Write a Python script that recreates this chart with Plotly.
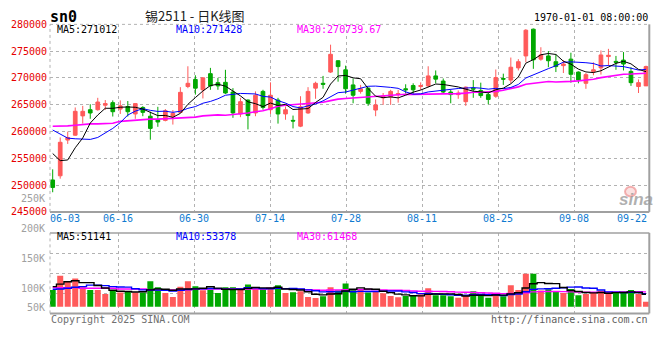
import plotly.graph_objects as go

W, H = 660, 360

# ---------------- data ----------------
OPEN = [250960, 251740, 258410, 259320, 262920, 264070, 264070, 264910, 265390, 264190,
        264670, 263280, 264490, 262860, 262200, 262080, 262860, 263580, 268400, 269720,
        267790, 270800, 269120, 269180, 267370, 263280, 265870, 263470, 267490, 264070,
        265870, 263280, 262080, 261000, 263470, 268100, 269000, 271100, 273210, 271520,
        268700, 267490, 268100, 264010, 266290, 266470, 266890, 267980, 268580, 268400,
        268520, 270380, 269420, 267370, 266890, 265570, 268100, 267670, 266890, 266590,
        269900, 269600, 271880, 274110, 279100, 273510, 274110, 273030, 272300, 273510,
        271100, 269000, 271220, 271880, 273990, 273090, 273330, 271220, 268400, 268520]
HIGH = [252940, 258890, 259980, 264490, 264790, 265090, 266290, 265870, 265810, 265810,
        265690, 265210, 264730, 263700, 264610, 264190, 264010, 268280, 272180, 270500,
        270020, 271880, 270020, 271520, 268100, 266290, 265990, 267490, 267790, 269180,
        266290, 264670, 262980, 266590, 268280, 269300, 270380, 276210, 273300, 272300,
        269900, 268700, 268200, 265990, 267190, 267790, 267790, 268820, 269000, 269180,
        272180, 271400, 269900, 267790, 267670, 268400, 269600, 269120, 267490, 271580,
        270800, 273810, 273510, 279100, 279220, 275730, 275010, 274410, 273330, 274710,
        271220, 270920, 272910, 275130, 275430, 274110, 274830, 272000, 269720, 272300]
LOW = [248670, 251200, 257690, 259200, 261480, 262380, 263890, 264010, 262800, 263280,
       262800, 262380, 262860, 258470, 260880, 261900, 261300, 263400, 268090, 266890,
       266170, 267790, 267790, 267010, 262560, 262680, 260400, 262860, 264070, 263280,
       261480, 262200, 260580, 260820, 263300, 266110, 267980, 270920, 269300, 267070,
       265270, 267070, 264790, 262860, 264970, 264970, 265390, 267070, 266890, 267790,
       268280, 269000, 267190, 265270, 266110, 264790, 266290, 266290, 265090, 266290,
       268700, 269000, 271400, 272910, 271700, 273210, 272000, 271100, 270920, 269120,
       269000, 267970, 270500, 270620, 272300, 271520, 271400, 268520, 267190, 268520]
CLOSE = [249570, 257990, 258890, 263770, 263770, 263460, 265510, 265210, 263700, 264790,
         263700, 265210, 263580, 260580, 261780, 263890, 263400, 267310, 269000, 268090,
         270020, 268520, 268520, 267190, 263470, 265570, 262980, 266770, 264490, 266770,
         263280, 264070, 261960, 264610, 267490, 269000, 268820, 274410, 272120, 267980,
         266770, 267980, 265270, 264970, 266590, 267490, 267070, 267790, 267790, 268580,
         270380, 269780, 267370, 266890, 267190, 268280, 267920, 266710, 265990, 270080,
         269780, 272000, 273030, 278910, 273390, 274290, 273210, 272120, 272600, 270680,
         269600, 270620, 271520, 274290, 274230, 272910, 272600, 269120, 269120, 272120]
VOLUME = [95645, 119355, 109194, 114516, 100000, 95645, 95645, 88710, 95161, 91452,
          93871, 91452, 91452, 110000, 100000, 90323, 83871, 101129, 110000, 101935,
          95161, 95968, 90323, 100000, 100000, 95968, 104839, 97258, 97258, 98387,
          103226, 90323, 91935, 93548, 83871, 82258, 85000, 100000, 95161, 106452,
          96774, 96452, 91452, 92419, 90000, 85484, 83387, 85484, 85484, 88387,
          98387, 86613, 86613, 85161, 82581, 86613, 93226, 85806, 82581, 87903,
          85000, 103548, 95484, 122581, 122581, 94677, 96774, 94032, 90323, 97258,
          86613, 88710, 90323, 94032, 90323, 91935, 90323, 95645, 88710, 75806]

# moving-average values before enough bars exist in the window
MA5_HEAD = [255890, 254570, 254690, 256970]
MA10_HEAD = [260280, 259500, 258770, 258650, 258530, 258530, 258890, 259680, 260580]
MA30_HEAD = [260999, 260999, 261059, 261179, 261360, 261420, 261420, 261480, 261540, 261901,
             262021, 262142, 262262, 262322, 262322, 262382, 262442, 262562, 262623, 262683,
             262923, 263043, 263103, 263044, 263164, 263284, 263465, 263705, 263885]
VMA5_HEAD = [101130, 105320, 109190, 110810]
VMA10_HEAD = [96770, 97260, 98390, 100000, 101130, 103710, 103710, 102740, 101130]
VMA30_HEAD = [99520, 99520, 99520, 99520, 98390, 98390, 98390, 98390, 98390, 97260,
              97260, 97260, 97260, 95650, 95650, 95650, 95650, 95650, 95650, 97260,
              97260, 97260, 97260, 97260, 97260, 97260, 97260, 97260, 97260]

DATE_LABELS = ["06-03", "06-16", "06-30", "07-14", "07-28", "08-11", "08-25", "09-08", "09-22"]
PRICE_TICKS = [245000, 250000, 255000, 260000, 265000, 270000, 275000, 280000]
VOL_TICK_LABELS = ["250K", "200K", "150K", "100K", "50K"]
VOL_TICK_VALUES = [250000, 200000, 150000, 100000, 50000]

TITLE_SYMBOL = "sn0"
TITLE = "锡2511 - 日K线图"
TIME_TEXT = "1970-01-01 08:00:00"
MA_TEXT = ["MA5:271012", "MA10:271428", "MA30:270739.67"]
VMA_TEXT = ["MA5:51141", "MA10:53378", "MA30:61468"]

# ---------------- styling / geometry ----------------
RED = "#ff5a5a"
GREEN = "#00a800"
GRID = "#b2b2b2"
BORDER = "#a0a0a0"
FONT = "DejaVu Sans Mono"
LABEL_RED = "#e60000"
DATE_BLUE = "#0f7ad0"
GRAY = "#a0a0a0"

X_LEFT_PX, X_RIGHT_PX = 50, 649.3
MAIN_TOP_PX, MAIN_BOT_PX = 19, 213
VOL_TOP_PX, VOL_BOT_PX = 234.7, 318
X_RANGE = [-0.36, 79.44]
Y_RANGE = [245000, 280000]
VOL_RANGE = [56452, 190806]
VOL_BASE = 67742          # floor from which Sina draws volume bars
GRID_X = [8.74 + 10.12 * k for k in range(7)]


def moving_average(vals, n, head):
    out = list(head)
    for i in range(n - 1, len(vals)):
        out.append(sum(vals[i - n + 1:i + 1]) / n)
    return out


def py(px):
    return 1 - px / H


def px_x(px):
    return px / W


idx = list(range(len(CLOSE)))
ma5 = moving_average(CLOSE, 5, MA5_HEAD)
ma10 = moving_average(CLOSE, 10, MA10_HEAD)
ma30 = moving_average(CLOSE, 30, MA30_HEAD)
vma5 = moving_average(VOLUME, 5, VMA5_HEAD)
vma10 = moving_average(VOLUME, 10, VMA10_HEAD)
vma30 = moving_average(VOLUME, 30, VMA30_HEAD)
vol_colors = [RED if c >= o else GREEN for o, c in zip(OPEN, CLOSE)]

fig = go.Figure()
fig.add_trace(go.Candlestick(
    x=idx, open=OPEN, high=HIGH, low=LOW, close=CLOSE,
    increasing=dict(line=dict(color=RED, width=1), fillcolor=RED),
    decreasing=dict(line=dict(color=GREEN, width=1), fillcolor=GREEN),
    whiskerwidth=0, xaxis="x", yaxis="y", showlegend=False, hoverinfo="skip"))
for vals, col, wd in [(ma30, "#ff00ff", 1.6), (ma10, "#0000ff", 1), (ma5, "#000000", 1)]:
    fig.add_trace(go.Scatter(x=idx, y=vals, mode="lines", line=dict(color=col, width=wd),
                             xaxis="x", yaxis="y", showlegend=False, hoverinfo="skip"))

fig.add_trace(go.Bar(x=idx, y=[v - VOL_BASE for v in VOLUME], base=VOL_BASE,
                     marker=dict(color=vol_colors, line=dict(width=0)),
                     xaxis="x2", yaxis="y2", showlegend=False, hoverinfo="skip"))
for vals, col in [(vma30, "#ff00ff"), (vma10, "#0000ff"), (vma5, "#000000")]:
    fig.add_trace(go.Scatter(x=idx, y=vals, mode="lines", line=dict(color=col, width=1.4, shape="hvh"),
                             xaxis="x2", yaxis="y2", showlegend=False, hoverinfo="skip"))

xdom = [px_x(X_LEFT_PX), px_x(X_RIGHT_PX)]
common_x = dict(domain=xdom, range=X_RANGE, showticklabels=False, ticks="",
                tickvals=GRID_X, showgrid=True, gridcolor=GRID, griddash="dot", gridwidth=1,
                zeroline=False, showline=False, fixedrange=True)
vol_grid = [VOL_RANGE[0] + (VOL_RANGE[1] - VOL_RANGE[0]) * k / 4 for k in (1, 2, 3)]

fig.update_layout(
    width=W, height=H, margin=dict(l=0, r=0, t=0, b=0), autosize=False,
    paper_bgcolor="white", plot_bgcolor="white",
    boxgap=0.3, bargap=0.2,
    font=dict(family=FONT, size=10, color="#000"),
    xaxis=dict(anchor="y", rangeslider=dict(visible=False), **common_x),
    xaxis2=dict(anchor="y2", **common_x),
    yaxis=dict(domain=[py(MAIN_BOT_PX), py(MAIN_TOP_PX)], range=Y_RANGE, tickvals=PRICE_TICKS,
               ticktext=[str(v) for v in PRICE_TICKS], tickfont=dict(color=LABEL_RED, size=10, family=FONT),
               ticks="", ticklabelstandoff=2, showgrid=True, gridcolor=GRID, griddash="dot",
               zeroline=False, showline=False, fixedrange=True),
    yaxis2=dict(domain=[py(VOL_BOT_PX), py(VOL_TOP_PX)], range=VOL_RANGE, tickvals=vol_grid,
                showticklabels=False, ticks="", showgrid=True, gridcolor=GRID, griddash="dot",
                zeroline=False, showline=False, fixedrange=True),
)

shapes = []
for ya, top_solid in [("y", False), ("y2", True)]:
    xr, yr = "x domain", ya + " domain"
    shapes.append(dict(type="line", xref=xr, yref=yr, x0=0, x1=1, y0=0, y1=0,
                       line=dict(color=BORDER, width=2)))
    shapes.append(dict(type="line", xref=xr, yref=yr, x0=1, x1=1, y0=0, y1=1,
                       line=dict(color=BORDER, width=2)))
    shapes.append(dict(type="line", xref=xr, yref=yr, x0=0, x1=1, y0=1, y1=1,
                       line=dict(color=BORDER if top_solid else GRID, width=1.5 if top_solid else 1,
                                 dash="solid" if top_solid else "dot")))
    shapes.append(dict(type="line", xref=xr, yref=yr, x0=0, x1=0, y0=0, y1=1,
                       line=dict(color=GRID, width=1, dash="dot")))
# sina watermark eye
shapes.append(dict(type="circle", xref="paper", yref="paper",
                   x0=px_x(625), x1=px_x(636), y0=py(197), y1=py(187),
                   line=dict(color="rgba(235,120,120,0.55)", width=2),
                   fillcolor="rgba(240,170,170,0.35)"))
fig.update_layout(shapes=shapes)

ann = []


def text(x, y, s, color="#000", size=10, xanchor="left", family=FONT, **kw):
    ann.append(dict(x=x, y=y, xref="paper", yref="paper", text=s, showarrow=False,
                    xanchor=xanchor, yanchor="middle", font=dict(color=color, size=size, family=family), **kw))


text(px_x(48), py(11.5), "<b>" + TITLE_SYMBOL + "</b>", size=15)
text(px_x(195), py(10), TITLE, size=13, xanchor="center", family="Noto Sans CJK SC", color="#222")
text(px_x(649.5), py(12), TIME_TEXT, xanchor="right")
for s, x, c in zip(MA_TEXT, [55, 174, 295], ["#000000", "#0000ff", "#ff00ff"]):
    text(px_x(x), py(24), s, color=c)
for s, x, c in zip(VMA_TEXT, [55, 174, 295], ["#000000", "#0000ff", "#ff00ff"]):
    text(px_x(x), py(238.5), s, color=c)

# date labels under the price panel (first one nudged right to clear the price/volume scale labels)
label_x = [X_RANGE[0]] + GRID_X + [X_RANGE[1]]
for i, (lab, xv) in enumerate(zip(DATE_LABELS, label_x)):
    if i == 0:
        xa, xs = "left", -2
    elif i == len(DATE_LABELS) - 1:
        xa, xs = "right", 0
    else:
        xa, xs = "center", 0
    ann.append(dict(x=xv, y=py(220.3), xref="x", yref="paper", text=lab, showarrow=False,
                    xanchor=xa, xshift=xs, yanchor="middle",
                    font=dict(color=DATE_BLUE, size=10, family=FONT)))


# volume scale labels (Sina places them on its own scale, about 31px per 50K)
def vol_px(v):
    return VOL_TOP_PX + (VOL_RANGE[1] - v) / (VOL_RANGE[1] - VOL_RANGE[0]) * (VOL_BOT_PX - VOL_TOP_PX)


for lab, v in zip(VOL_TICK_LABELS, VOL_TICK_VALUES):
    text(px_x(46.5), py(vol_px(max(v, VOL_BASE)) + 1.2), lab, color=GRAY, xanchor="right")

text(px_x(49), py(324), "Copyright 2025 SINA.COM", color="#707070")
text(px_x(649.5), py(324), "http://finance.sina.com.cn", color="#606060", xanchor="right")
text(px_x(636), py(200), "<b><i>sina</i></b>", color="rgba(150,150,150,0.75)", size=17,
     xanchor="center", family="Liberation Sans")

fig.update_layout(annotations=ann)
fig.write_html("out.html", config={"displayModeBar": False, "staticPlot": True},
               post_script="document.body.style.margin='0px';")
